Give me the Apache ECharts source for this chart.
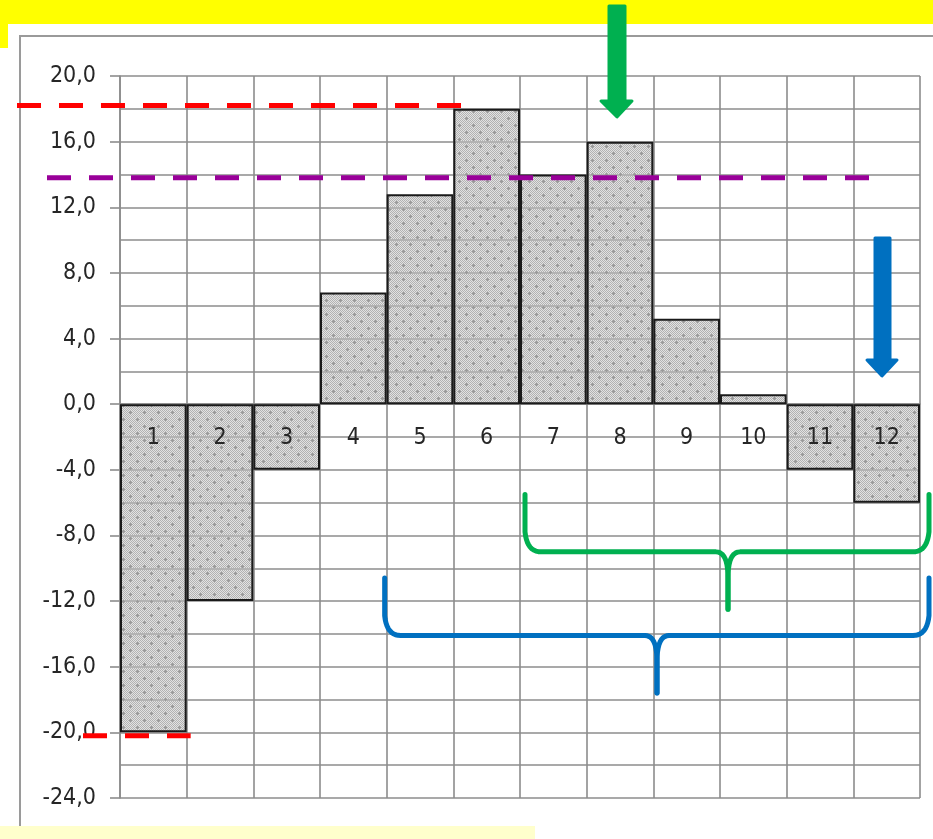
<!DOCTYPE html>
<html><head><meta charset="utf-8">
<script src="https://cdn.jsdelivr.net/npm/echarts@6/dist/echarts.min.js"></script>
<style>html,body{margin:0;padding:0;background:#fff}#c{width:933px;height:839px}</style>
</head><body><div id="c"></div>
<script>
var categories = ['1','2','3','4','5','6','7','8','9','10','11','12'];
var values = [-20, -12, -4, 6.8, 12.8, 18, 14, 16, 5.2, 0.6, -4, -6];
var yTicks = {min: -24, max: 20, interval: 4};
var refLevels = {redTop: 18.2, purple: 13.8, redBottom: -20.2};

var FONT = '"DejaVu Sans Condensed", "DejaVu Sans", sans-serif';
var GRID = '#8c8c8c';

// dotted gray pattern (light pixels partly transparent so grid lines show through)
var pc = document.createElement('canvas');
pc.width = 14; pc.height = 14;
var g = pc.getContext('2d');
g.fillStyle = 'rgba(190,190,190,0.45)'; g.fillRect(0,0,14,14);
g.fillStyle = '#b2b2b2';
for (var i=0;i<14;i++) for (var j=0;j<14;j++) if ((i+j)%2===0) g.fillRect(i,j,1,1);
g.fillStyle = '#9a9a9a';
g.fillRect(3,6,3,1); g.fillRect(4,5,1,3);
g.fillRect(10,13,3,1); g.fillRect(11,12,1,2); g.fillRect(11,0,1,1);

var chart = echarts.init(document.getElementById('c'), null, {renderer:'canvas'});
var option = {
  animation: false,
  backgroundColor: '#fff',
  grid: {left: 120, right: 13, top: 76, bottom: 41},
  xAxis: [{
    type: 'category', data: categories, boundaryGap: true,
    axisLine: {show: true, onZero: true, lineStyle: {color: GRID, width: 1.6}},
    axisTick: {show: false}, axisLabel: {show: false},
    splitLine: {show: true, lineStyle: {color: GRID, width: 1.6}}, z: 0
  }, {
    type: 'category', data: categories, boundaryGap: true, position: 'bottom', offset: 0,
    axisLine: {show: false, onZero: false}, axisTick: {show: false},
    splitLine: {show: false},
    axisLabel: {show: true, fontFamily: FONT, fontSize: 23, color: '#262626', margin: 21},
    z: 10
  }],
  yAxis: {
    type: 'value', min: yTicks.min, max: yTicks.max, interval: yTicks.interval,
    axisLine: {show: true, lineStyle: {color: GRID, width: 1.6}},
    axisTick: {show: true, length: 10, lineStyle: {color: GRID, width: 1.6}},
    axisLabel: {fontFamily: FONT, fontSize: 23, color: '#262626', margin: 24,
      formatter: function(v){ return v.toFixed(1).replace('.', ','); }},
    splitLine: {show: true, lineStyle: {color: GRID, width: 1.6}},
    minorTick: {show: false, splitNumber: 2},
    minorSplitLine: {show: true, lineStyle: {color: GRID, width: 1.6}}
  },
  series: [{
    type: 'bar', data: values, xAxisIndex: 0, barCategoryGap: '0%', z: 2,
    itemStyle: {color: {image: pc, repeat: 'repeat'}, borderColor: '#1a1a1a', borderWidth: 2}
  }]
};
chart.setOption(option);

function px(idx, v){ return chart.convertToPixel({xAxisIndex:0, yAxisIndex:0}, [idx, v]); }
function py(v){ return chart.convertToPixel({yAxisIndex:0}, v); }
var half = (px(1,0)[0] - px(0,0)[0]) / 2;

// move the label axis onto the zero line
chart.setOption({xAxis: [{}, {offset: -(py(yTicks.min) - py(0))}]});

function quad(pts, p0, c, p1){
  for (var t = 1; t <= 10; t++) {
    var s = t / 10, u = 1 - s;
    pts.push([u*u*p0[0] + 2*u*s*c[0] + s*s*p1[0], u*u*p0[1] + 2*u*s*c[1] + s*s*p1[1]]);
  }
}
function braceHalf(xEnd, xm, yTop, yMid, yTip, dir){
  var r = 16, pts = [[xEnd, yTop], [xEnd, yMid - r - 4]];
  quad(pts, [xEnd, yMid - r - 4], [xEnd + dir*2, yMid], [xEnd + dir*r, yMid]);
  pts.push([xm - dir*12, yMid]);
  quad(pts, [xm - dir*12, yMid], [xm, yMid], [xm, yMid + 26]);
  pts.push([xm, yTip]);
  return pts;
}
function braceEls(x1, x2, xm, yTop, yMid, yTip, color){
  var st = {fill:'none', stroke:color, lineWidth:5, lineCap:'round', lineJoin:'round'};
  return [
    {type:'polyline', shape:{points: braceHalf(x1, xm, yTop, yMid, yTip, 1)}, style: st, z:100},
    {type:'polyline', shape:{points: braceHalf(x2, xm, yTop, yMid, yTip, -1)}, style: st, z:100}
  ];
}

var yRed = py(refLevels.redTop), yPur = py(refLevels.purple), yRedB = py(refLevels.redBottom);
var left7 = px(6,0)[0] - half, right12 = px(11,0)[0] + half + 9, left5 = px(4,0)[0] - half;
var right1 = px(0,0)[0] + half;

var graphics = [
  {type:'rect', shape:{x:20, y:36, width:940, height:830}, style:{fill:'none', stroke:'#9a9a9a', lineWidth:2}, z:-1, silent:true},
  {type:'rect', shape:{x:0, y:0, width:933, height:24}, style:{fill:'#ffff00'}, z:100},
  {type:'rect', shape:{x:0, y:0, width:8, height:48}, style:{fill:'#ffff00'}, z:100},
  {type:'rect', shape:{x:0, y:826, width:535, height:13}, style:{fill:'#ffffcc'}, z:100},
  {type:'line', shape:{x1:17, y1:yRed, x2:462, y2:yRed}, style:{stroke:'#ff0000', lineWidth:5, lineDash:[24,18]}, z:100},
  {type:'line', shape:{x1:47, y1:yPur, x2:872, y2:yPur}, style:{stroke:'#990099', lineWidth:5, lineDash:[24,18]}, z:100},
  {type:'line', shape:{x1:83, y1:yRedB, x2:right1 + 4, y2:yRedB}, style:{stroke:'#ff0000', lineWidth:5, lineDash:[24,18]}, z:100},
  {type:'polygon', shape:{points:[[609,6],[625,6],[625,101],[632,101],[617,117],[601,101],[609,101]]},
    style:{fill:'#00b050', stroke:'#00b050', lineWidth:3, lineJoin:'round'}, z:100},
  {type:'polygon', shape:{points:[[875,238],[890,238],[890,360],[897,360],[882,376],[867,360],[875,360]]},
    style:{fill:'#0070c0', stroke:'#0070c0', lineWidth:3, lineJoin:'round'}, z:100}
].concat(
  braceEls(left7 + 5, right12, 728, py(-5.5), py(-9.0), py(-12.5), '#00b050'),
  braceEls(left5 - 2, right12, 657, py(-10.6), py(-14.1), py(-17.6), '#0070c0')
);
chart.setOption({graphic: graphics});
</script></body></html>
